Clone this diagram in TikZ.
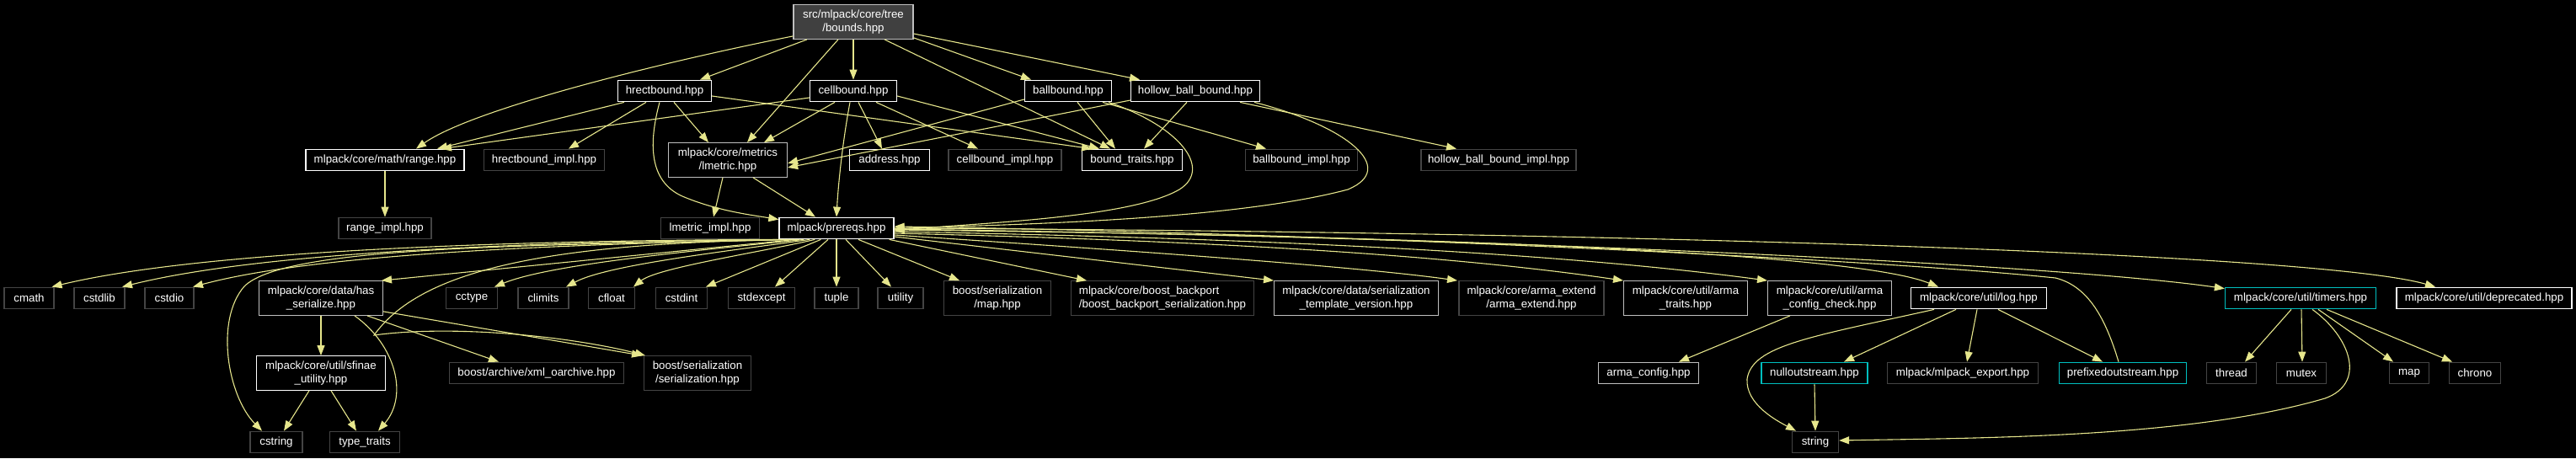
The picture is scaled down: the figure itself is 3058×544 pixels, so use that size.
\documentclass[tikz,border=0pt]{standalone}
\usepackage{fontspec}
\setmainfont{Liberation Sans}
\usetikzlibrary{arrows.meta}
\definecolor{ecol}{RGB}{230,230,140}
\definecolor{lgray}{RGB}{191,191,191}
\definecolor{dgray}{RGB}{68,68,68}
\definecolor{cyanb}{RGB}{0,190,190}
\definecolor{rootfill}{RGB}{64,64,64}
\newcommand\nodefont{\fontsize{13.3}{15.5}\selectfont}
\tikzset{
  nd/.style={draw, rectangle, fill=black, text=white, inner sep=0pt, minimum height=25.5pt, line width=1.3pt, font=\nodefont, align=center},
  dw/.style={nd, draw=white},
  dg/.style={nd, draw=lgray},
  dx/.style={nd, draw=dgray},
  dc/.style={nd, draw=cyanb},
  rootbox/.style={nd, draw=lgray, fill=rootfill},
  tall/.style={minimum height=40.5pt},
  edge/.style={draw=ecol, line width=1.1pt, -{Triangle[length=12pt,width=9pt]}},
}
\begin{document}
\begin{tikzpicture}[x=1pt,y=-1pt]
\useasboundingbox (0,0) rectangle (3058,544);
\fill[black] (0,0) rectangle (3058,544);

% row 0
\node[rootbox, tall, minimum width=142pt] (bounds) at (1013,26) {src/mlpack/core/tree\\/bounds.hpp};
% row 1
\node[dw, minimum width=111pt] (hrect) at (789,108) {hrectbound.hpp};
\node[dw, minimum width=103pt] (cell) at (1013,108) {cellbound.hpp};
\node[dw, minimum width=103pt] (ball) at (1268,108) {ballbound.hpp};
\node[dw, minimum width=153pt] (hollow) at (1419,108) {hollow\_ball\_bound.hpp};
% row 2
\node[dw, minimum width=188pt] (range) at (457,190) {mlpack/core/math/range.hpp};
\node[dx, minimum width=143pt] (hrectimpl) at (646,190) {hrectbound\_impl.hpp};
\node[dg, tall, minimum width=141pt] (lmetric) at (864,190) {mlpack/core/metrics\\/lmetric.hpp};
\node[dw, minimum width=95pt] (address) at (1056,190) {address.hpp};
\node[dx, minimum width=134pt] (cellimpl) at (1193,190) {cellbound\_impl.hpp};
\node[dw, minimum width=119pt] (boundtraits) at (1344,190) {bound\_traits.hpp};
\node[dx, minimum width=133pt] (ballimpl) at (1545,190) {ballbound\_impl.hpp};
\node[dx, minimum width=184pt] (hollowimpl) at (1779,190) {hollow\_ball\_bound\_impl.hpp};
% row 2b
\node[dx, minimum width=110pt] (rangeimpl) at (457,271) {range\_impl.hpp};
\node[dx, minimum width=117pt] (lmetricimpl) at (843,271) {lmetric\_impl.hpp};
\node[dw, minimum width=136pt] (prereqs) at (993,271) {mlpack/prereqs.hpp};
% row 3
\node[dx, minimum width=59pt] (cmath) at (34.5,354) {cmath};
\node[dx, minimum width=60pt] (cstdlib) at (118,354) {cstdlib};
\node[dx, minimum width=58pt] (cstdio) at (201,354) {cstdio};
\node[dg, tall, minimum width=147pt] (hasser) at (381,354) {mlpack/core/data/has\\\_serialize.hpp};
\node[dx, minimum width=61pt] (cctype) at (560,354) {cctype};
\node[dx, minimum width=60pt] (climits) at (645,354) {climits};
\node[dx, minimum width=55pt] (cfloat) at (726,354) {cfloat};
\node[dx, minimum width=61pt] (cstdint) at (809,354) {cstdint};
\node[dx, minimum width=79pt] (stdexcept) at (904,354) {stdexcept};
\node[dx, minimum width=52pt] (tuple) at (993,354) {tuple};
\node[dx, minimum width=54pt] (utility) at (1069,354) {utility};
\node[dx, tall, minimum width=127pt] (bmap) at (1184,354) {boost/serialization\\/map.hpp};
\node[dx, tall, minimum width=217pt, align=left] (backport) at (1380,354) {mlpack/core/boost\_backport\\/boost\_backport\_serialization.hpp};
\node[dg, tall, minimum width=195pt] (stv) at (1610,354) {mlpack/core/data/serialization\\\_template\_version.hpp};
\node[dx, tall, minimum width=172pt] (armaext) at (1818,354) {mlpack/core/arma\_extend\\/arma\_extend.hpp};
\node[dg, tall, minimum width=147pt] (armatraits) at (2001,354) {mlpack/core/util/arma\\\_traits.hpp};
\node[dg, tall, minimum width=147pt] (armacc) at (2172,354) {mlpack/core/util/arma\\\_config\_check.hpp};
\node[dw, minimum width=161pt] (log) at (2349,354) {mlpack/core/util/log.hpp};
\node[dc, minimum width=179pt] (timers) at (2731,354) {mlpack/core/util/timers.hpp};
\node[dw, minimum width=208pt] (deprecated) at (2949,354) {mlpack/core/util/deprecated.hpp};
% row 4
\node[dw, tall, minimum width=153pt] (sfinae) at (381,443) {mlpack/core/util/sfinae\\\_utility.hpp};
\node[dx, minimum width=207pt] (xmlo) at (637,443) {boost/archive/xml\_oarchive.hpp};
\node[dx, tall, minimum width=127pt] (bser) at (828,443) {boost/serialization\\/serialization.hpp};
\node[dg, minimum width=119pt] (armaconfig) at (1957,443) {arma\_config.hpp};
\node[dc, minimum width=126pt] (nullout) at (2154,443) {nulloutstream.hpp};
\node[dx, minimum width=179pt] (mlexport) at (2330,443) {mlpack/mlpack\_export.hpp};
\node[dc, minimum width=151pt] (prefixed) at (2520,443) {prefixedoutstream.hpp};
\node[dx, minimum width=59pt] (thread) at (2649,443) {thread};
\node[dx, minimum width=59pt] (mutex) at (2732,443) {mutex};
\node[dx, minimum width=47pt] (map) at (2860,443) {map};
\node[dx, minimum width=61pt] (chrono) at (2938,443) {chrono};
% row 5
\node[dx, minimum width=62pt] (cstring) at (328,525) {cstring};
\node[dx, minimum width=83pt] (typetraits) at (433,525) {type\_traits};
\node[dx, minimum width=55pt] (string) at (2155,525) {string};

% edges from bounds
\draw[edge] ([yshift=4pt]bounds.south west) .. controls (780,75) and (560,130) .. ([xshift=37pt]range.north);
\draw[edge] ([xshift=-55pt]bounds.south) -- ([xshift=42pt]hrect.north);
\draw[edge] ([xshift=-18pt]bounds.south) -- ([xshift=23pt]lmetric.north);
\draw[edge] (bounds.south) -- (cell.north);
\draw[edge] ([yshift=2pt]bounds.south east) -- ([xshift=-44pt]ball.north);
\draw[edge] ([yshift=-14pt]bounds.east) -- ([xshift=-66pt]hollow.north);
\draw[edge] ([xshift=37pt]bounds.south) -- ([xshift=-26pt]boundtraits.north);

% hrectbound
\draw[edge] ([xshift=-48pt]hrect.south) -- ([xshift=62pt]range.north);
\draw[edge] ([xshift=-22pt]hrect.south) -- ([xshift=29pt]hrectimpl.north);
\draw[edge] ([xshift=11pt]hrect.south) -- ([xshift=-23pt]lmetric.north);
\draw[edge] ([xshift=-6pt]hrect.south) .. controls (770,170) and (770,215) .. (810,233) .. controls (850,250) and (890,255) .. ([yshift=-3pt]prereqs.north west);
\draw[edge] ([yshift=-6pt]hrect.east) -- ([xshift=-48pt]boundtraits.north);

% cellbound
\draw[edge] ([yshift=-8pt]cell.west) -- ([xshift=67pt]range.north);
\draw[edge] ([xshift=-22pt]cell.south) -- ([xshift=43pt]lmetric.north);
\draw[edge] ([xshift=-4pt]cell.south) .. controls (1000,170) and (995,220) .. (prereqs.north);
\draw[edge] ([xshift=6pt]cell.south) -- ([xshift=-9pt]address.north);
\draw[edge] ([xshift=27pt]cell.south) -- ([xshift=-32pt]cellimpl.north);
\draw[edge] ([yshift=-6pt]cell.east) -- ([xshift=-39pt]boundtraits.north);

% ballbound
\draw[edge] ([yshift=-10pt]ball.west) -- ([yshift=17pt]lmetric.south east);
\draw[edge] ([xshift=11pt]ball.south) -- ([xshift=-20pt]boundtraits.north);
\draw[edge] ([xshift=41pt]ball.south) -- ([xshift=-42pt]ballimpl.north);
\draw[edge] ([xshift=48pt]ball.south) .. controls (1400,150) and (1440,200) .. (1400,225) .. controls (1340,260) and (1150,265) .. ([yshift=-3pt]prereqs.east);

% hollow_ball_bound
\draw[edge] ([yshift=-11pt]hollow.west) -- ([yshift=12pt]lmetric.south east);
\draw[edge] ([xshift=-10pt]hollow.south) -- ([xshift=14pt]boundtraits.north);
\draw[edge] ([xshift=53pt]hollow.south) -- ([xshift=-50pt]hollowimpl.north);
\draw[edge] ([xshift=70pt]hollow.south) .. controls (1600,150) and (1660,200) .. (1600,225) .. controls (1450,265) and (1150,267) .. ([yshift=-1pt]prereqs.east);

% range, lmetric
\draw[edge] (range.south) -- (rangeimpl.north);
\draw[edge] ([xshift=-6pt]lmetric.south) -- ([xshift=4pt]lmetricimpl.north);
\draw[edge] ([xshift=30pt]lmetric.south) -- ([xshift=-25pt]prereqs.north);

% prereqs
\draw[edge] ([xshift=4pt]prereqs.south west) .. controls (650,285) and (250,295) .. ([xshift=27pt]cmath.north);
\draw[edge] ([xshift=8pt]prereqs.south west) .. controls (650,287) and (320,297) .. ([xshift=27pt]cstdlib.north);
\draw[edge] ([xshift=12pt]prereqs.south west) .. controls (680,290) and (380,300) .. ([xshift=28pt]cstdio.north);
\draw[edge] ([xshift=15pt]prereqs.south west) .. controls (650,292) and (340,290) .. (290,340) .. controls (255,380) and (270,470) .. ([xshift=-17pt]cstring.north);
\draw[edge] ([xshift=20pt]prereqs.south west) -- ([xshift=72pt]hasser.north);
\draw[edge] ([xshift=25pt]prereqs.south west) .. controls (650,288) and (500,320) .. (444,398) .. controls (540,385) and (680,400) .. ([xshift=-62pt]bser.north);
\draw[edge] ([xshift=30pt]prereqs.south west) .. controls (800,300) and (650,315) .. ([xshift=27pt]cctype.north);
\draw[edge] ([xshift=37pt]prereqs.south west) .. controls (850,300) and (720,315) .. ([xshift=27pt]climits.north);
\draw[edge] ([xshift=43pt]prereqs.south west) .. controls (900,300) and (780,318) .. ([xshift=26pt]cfloat.north);
\draw[edge] ([xshift=50pt]prereqs.south west) -- ([xshift=29pt]cstdint.north);
\draw[edge] ([xshift=-10pt]prereqs.south) -- ([xshift=16pt]stdexcept.north);
\draw[edge] (prereqs.south) -- (tuple.north);
\draw[edge] ([xshift=11pt]prereqs.south) -- ([xshift=-11pt]utility.north);
\draw[edge] ([xshift=26pt]prereqs.south) -- ([xshift=-45pt]bmap.north);
\draw[edge] ([xshift=-6pt]prereqs.south east) -- ([xshift=-90pt]backport.north);
\draw[edge] ([yshift=-10pt]prereqs.east) -- ([xshift=-98pt]stv.north);
\draw[edge] ([yshift=-8pt]prereqs.east) .. controls (1300,295) and (1600,315) .. ([xshift=-88pt]armaext.north);
\draw[edge] ([yshift=-6pt]prereqs.east) .. controls (1400,285) and (1700,300) .. ([xshift=-74pt]armatraits.north);
\draw[edge] ([yshift=-4pt]prereqs.east) .. controls (1500,283) and (1850,300) .. ([xshift=-74pt]armacc.north);
\draw[edge] ([yshift=-2pt]prereqs.east) .. controls (1700,280) and (2200,300) .. ([xshift=-48pt]log.north);
\draw[edge] ([yshift=-1pt]prereqs.east) .. controls (1800,282) and (2450,315) .. ([yshift=-2pt]timers.north west);
\draw[edge] (prereqs.east) .. controls (1900,275) and (2750,300) .. ([xshift=-58pt]deprecated.north);

% prefixedoutstream back to prereqs
\draw[edge] ([xshift=-5pt]prefixed.north) .. controls (2500,380) and (2480,340) .. (2440,330) .. controls (2200,305) and (1500,275) .. ([yshift=2pt]prereqs.east);

% log
\draw[edge] ([xshift=-53pt]log.south) .. controls (2150,400) and (2080,410) .. (2074,450) .. controls (2072,480) and (2110,500) .. ([xshift=-23pt]string.north);
\draw[edge] ([xshift=-27pt]log.south) -- ([xshift=35pt]nullout.north);
\draw[edge] ([xshift=-2pt]log.south) -- ([xshift=5pt]mlexport.north);
\draw[edge] ([xshift=23pt]log.south) -- ([xshift=-24pt]prefixed.north);

% arma_config_check
\draw[edge] ([xshift=-47pt]armacc.south) -- ([xshift=36pt]armaconfig.north);
% nulloutstream
\draw[edge] (nullout.south) -- (string.north);

% timers
\draw[edge] ([xshift=-11pt]timers.south) -- ([xshift=16pt]thread.north);
\draw[edge] ([xshift=1pt]timers.south) -- ([xshift=1pt]mutex.north);
\draw[edge] ([xshift=14pt]timers.south) .. controls (2790,400) and (2810,455) .. (2760,473) .. controls (2600,520) and (2350,520) .. ([yshift=2pt]string.east);
\draw[edge] ([xshift=21pt]timers.south) -- ([xshift=-19pt]map.north);
\draw[edge] ([xshift=31pt]timers.south) -- ([xshift=-27pt]chrono.north);

% has_serialize
\draw[edge] (hasser.south) -- (sfinae.north);
\draw[edge] ([xshift=40pt]hasser.south) .. controls (470,410) and (485,470) .. ([xshift=16pt]typetraits.north);
\draw[edge] ([xshift=55pt]hasser.south) -- ([xshift=-45pt]xmlo.north);
\draw[edge] ([yshift=5pt]hasser.south east) -- ([xshift=-66pt]bser.north);

% sfinae
\draw[edge] ([xshift=-14pt]sfinae.south) -- ([xshift=9pt]cstring.north);
\draw[edge] ([xshift=12pt]sfinae.south) -- ([xshift=-10pt]typetraits.north);
\end{tikzpicture}
\end{document}
